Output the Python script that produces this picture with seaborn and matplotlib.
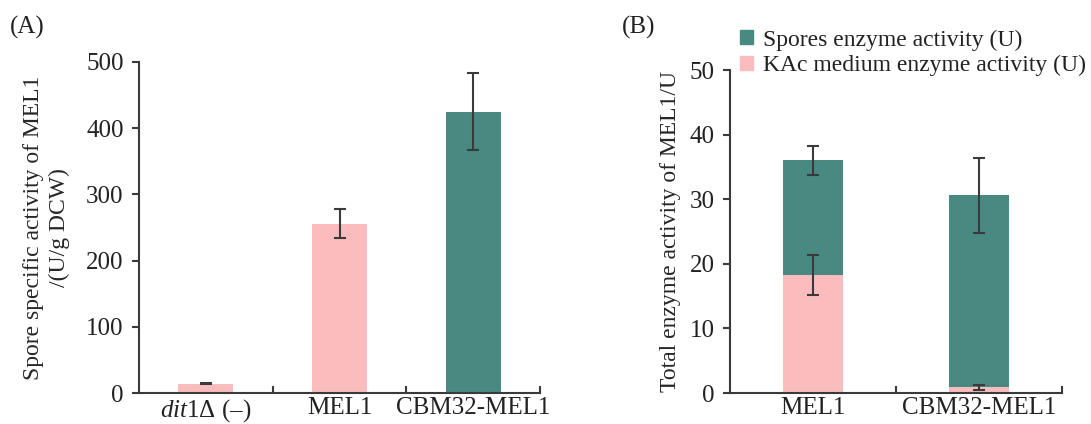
import numpy as np
import pandas as pd
import matplotlib
matplotlib.use("Agg")
import matplotlib.pyplot as plt
import matplotlib.patches as mpatches
import seaborn as sns

# panel A: spore specific activity
strains_a = ["$\\mathit{dit1}$\u0394 (\u2013)", "MEL1", "CBM32-MEL1"]
activity_a = [14, 256, 425]
err_a = [1, 22, 58]
colors_a = ["#fbbcbd", "#fbbcbd", "#488a82"]

# panel B: total enzyme activity, stacked
strains_b = ["MEL1", "CBM32-MEL1"]
kac_b = [18.2, 0.9]
kac_err = [3.1, 0.4]
spores_b = [17.8, 29.7]
total_err = [2.3, 5.8]

pink = "#fbbcbd"
teal = "#488a82"
ecol = "#3a3a3a"
FS = 18

sns.set_theme(style="white")
plt.rcParams["font.family"] = ["Liberation Serif", "DejaVu Serif"]
plt.rcParams["mathtext.fontset"] = "custom"
plt.rcParams["mathtext.rm"] = "Liberation Serif"
plt.rcParams["mathtext.it"] = "Liberation Serif:italic"
plt.rcParams["axes.edgecolor"] = "#3a3a3a"
plt.rcParams["text.color"] = "#222222"
plt.rcParams["xtick.color"] = "#222222"
plt.rcParams["ytick.color"] = "#222222"

fig = plt.figure(figsize=(10.91, 4.24), dpi=100)
axA = fig.add_axes([0.1274, 0.0731, 0.3676, 0.7807])
axB = fig.add_axes([0.669, 0.0731, 0.3044, 0.7618])

dfa = pd.DataFrame({"strain": strains_a, "activity": activity_a})
sns.barplot(data=dfa, x="strain", y="activity", hue="strain", palette=colors_a,
            width=0.41, legend=False, errorbar=None, saturation=1,
            linewidth=0, ax=axA)
axA.errorbar(range(len(strains_a)), activity_a, yerr=err_a, fmt="none",
             ecolor=ecol, elinewidth=1.5, capsize=4, capthick=1.5)
axA.set_ylim(0, 500)
axA.set_xlim(-0.5, 2.5)
axA.set_yticks(range(0, 501, 100))
axA.set_ylabel("Spore specific activity of MEL1\n/(U/g DCW)", fontsize=17,
               linespacing=1.25, labelpad=12)
axA.set_xlabel("")

dfb = pd.DataFrame({"strain": strains_b, "kac": kac_b,
                    "total": np.array(kac_b) + np.array(spores_b)})
sns.barplot(data=dfb, x="strain", y="total", color=teal, width=0.36,
            errorbar=None, saturation=1, linewidth=0, ax=axB)
sns.barplot(data=dfb, x="strain", y="kac", color=pink, width=0.36,
            errorbar=None, saturation=1, linewidth=0, ax=axB)
xb = np.arange(len(strains_b))
axB.errorbar(xb, dfb["total"], yerr=total_err, fmt="none",
             ecolor=ecol, elinewidth=1.5, capsize=4, capthick=1.5)
axB.errorbar(xb, dfb["kac"], yerr=kac_err, fmt="none",
             ecolor=ecol, elinewidth=1.5, capsize=4, capthick=1.5)
axB.set_ylim(0, 50)
axB.set_xlim(-0.5, 1.5)
axB.set_yticks(range(0, 51, 10))
axB.set_ylabel("Total enzyme activity of MEL1/U", fontsize=17, labelpad=6)
axB.set_xlabel("")

handles = [mpatches.Patch(color=teal, label="Spores enzyme activity (U)"),
           mpatches.Patch(color=pink, label="KAc medium enzyme activity (U)")]
axB.legend(handles=handles, loc="lower left", bbox_to_anchor=(0.03, 0.98),
           frameon=False, fontsize=17, handlelength=0.55, handleheight=0.55,
           handletextpad=0.45, labelspacing=0.2, borderaxespad=0, borderpad=0)

for ax, n in ((axA, 3), (axB, 2)):
    sns.despine(ax=ax)
    for s in ("left", "bottom"):
        ax.spines[s].set_linewidth(1.5)
    ax.tick_params(axis="y", which="major", direction="out", length=5,
                   width=1.5, labelsize=FS, left=True, color="#3a3a3a", pad=6)
    ax.tick_params(axis="x", which="major", length=0, labelsize=FS, pad=3)
    ax.set_xticks(np.arange(n) + 0.5, minor=True)
    ax.tick_params(axis="x", which="minor", direction="in", length=5,
                   width=1.5, bottom=True, color="#3a3a3a")

fig.text(0.009, 0.92, "(A)", fontsize=FS)
fig.text(0.570, 0.92, "(B)", fontsize=FS)

fig.savefig("out.png", dpi=100)
